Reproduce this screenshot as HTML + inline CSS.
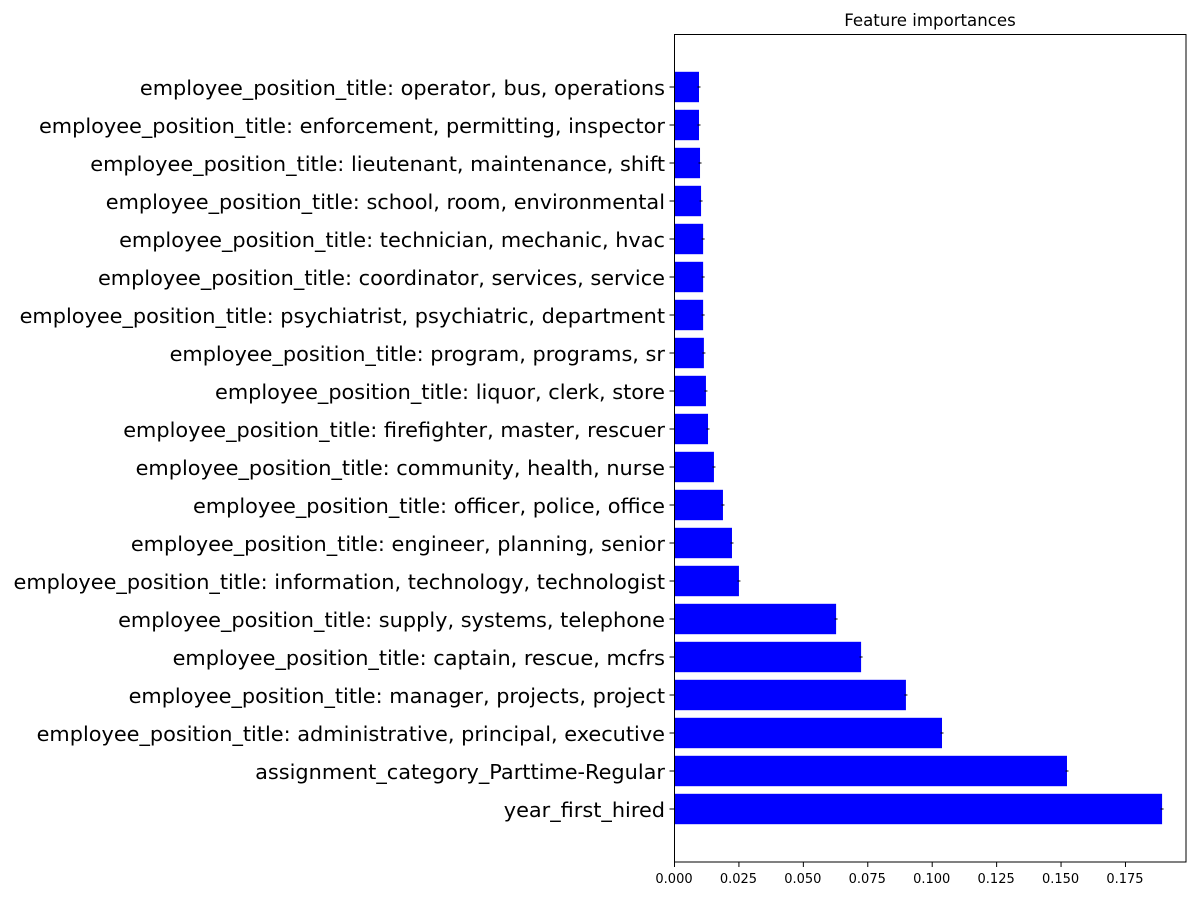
<!DOCTYPE html>
<html><head><meta charset="utf-8"><style>
body{margin:0;background:#fff;}
svg{display:block;font-family:"DejaVu Sans","Liberation Sans",sans-serif;}
</style></head><body>
<svg id="chart" width="1200" height="900" viewBox="0 0 1200 900">
<rect width="1200" height="900" fill="#fff"/>
<text x="930" y="26" font-size="16.6" text-anchor="middle">Feature importances</text>
<g id="bars"></g><g id="yt"></g><g id="xt"></g>
<rect x="674.5" y="34.5" width="511.5" height="827.5" fill="none" stroke="#000" stroke-width="1"/>
</svg>
<script>
const categories=["year_first_hired","assignment_category_Parttime-Regular","employee_position_title: administrative, principal, executive","employee_position_title: manager, projects, project","employee_position_title: captain, rescue, mcfrs","employee_position_title: supply, systems, telephone","employee_position_title: information, technology, technologist","employee_position_title: engineer, planning, senior","employee_position_title: officer, police, office","employee_position_title: community, health, nurse","employee_position_title: firefighter, master, rescuer","employee_position_title: liquor, clerk, store","employee_position_title: program, programs, sr","employee_position_title: psychiatrist, psychiatric, department","employee_position_title: coordinator, services, service","employee_position_title: technician, mechanic, hvac","employee_position_title: school, room, environmental","employee_position_title: lieutenant, maintenance, shift","employee_position_title: enforcement, permitting, inspector","employee_position_title: operator, bus, operations"];
const importances=[0.1894,0.1525,0.1040,0.0900,0.0726,0.0629,0.0252,0.0225,0.0190,0.0155,0.0132,0.0124,0.0116,0.0113,0.0113,0.0113,0.0105,0.0101,0.0097,0.0097];
const xTicks=[0,0.025,0.05,0.075,0.1,0.125,0.15,0.175];
const xTickLabels=["0.000","0.025","0.050","0.075","0.100","0.125","0.150","0.175"];
const NS="http://www.w3.org/2000/svg";
const x=v=>674+v*2577;
const y=i=>809-i*38;
const bars=document.getElementById('bars'),yt=document.getElementById('yt'),xt=document.getElementById('xt');
function mk(tag,attrs,parent){const e=document.createElementNS(NS,tag);for(const k in attrs)e.setAttribute(k,attrs[k]);parent.appendChild(e);return e;}
categories.forEach((c,i)=>{
  const r=mk('rect',{x:x(0),y:y(i)-15.2,width:x(importances[i])-x(0),height:30.4,fill:'#0000ff'},bars);
  
  
  const eb=mk('line',{x1:x(importances[i])-1.5,x2:x(importances[i])+1.5,y1:y(i),y2:y(i),stroke:'#000'},bars);
  
  
  const tk=mk('line',{x1:669.5,x2:674.5,y1:y(i),y2:y(i),stroke:'#000'},yt);
  
  
  const t=mk('text',{x:665,y:y(i)+8,'font-size':20.85,'text-anchor':'end'},yt);
  t.textContent=c;
  
  
});
xTicks.forEach((v,i)=>{
  const tk=mk('line',{x1:x(v)+0.5,x2:x(v)+0.5,y1:862,y2:867,stroke:'#000'},xt);
  
  
  const t=mk('text',{x:x(v),y:883,'font-size':13,'text-anchor':'middle'},xt);
  t.textContent=xTickLabels[i];
  
  
});
</script>
</body></html>
